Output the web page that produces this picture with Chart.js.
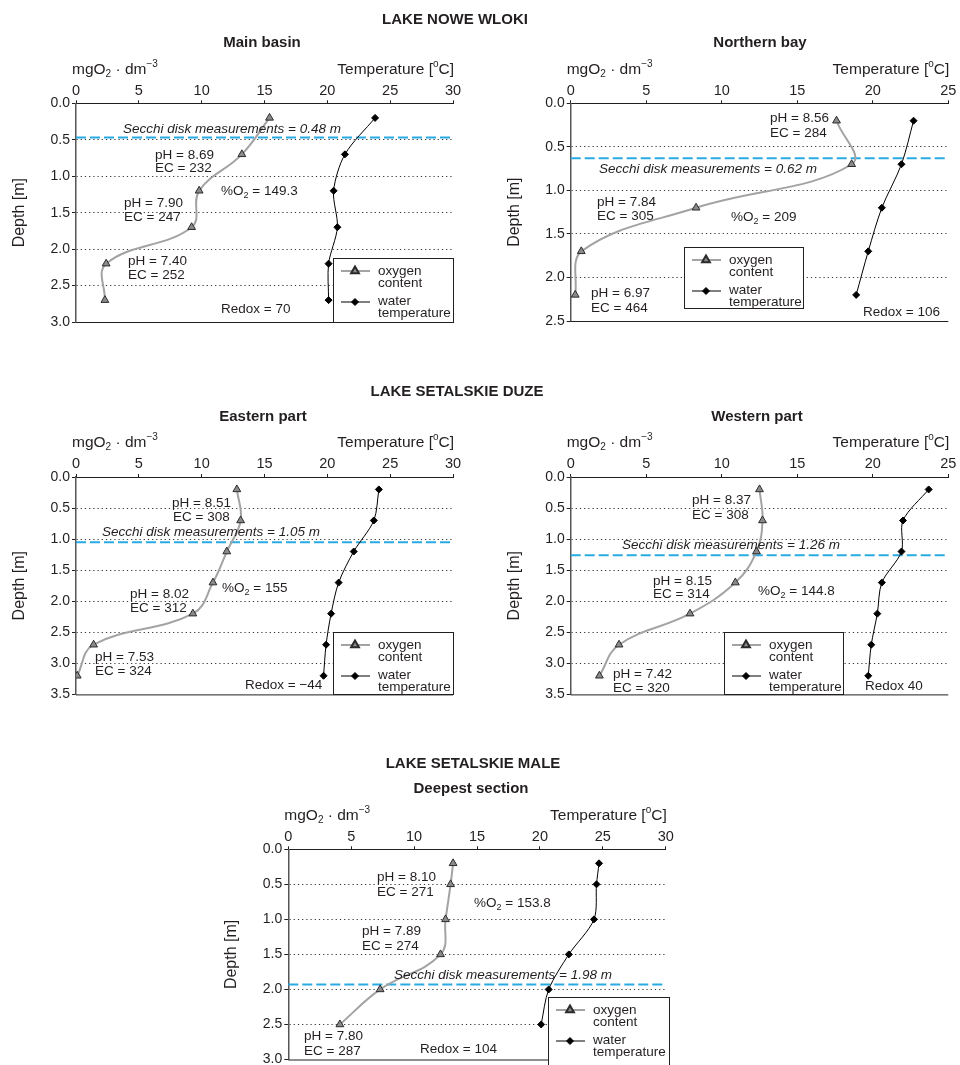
<!DOCTYPE html>
<html>
<head>
<meta charset="utf-8">
<script src="https://cdn.jsdelivr.net/npm/chart.js@4.4.1/dist/chart.umd.min.js"></script>
<style>
  html, body { margin: 0; padding: 0; background: #fff; }
  #wrap { position: relative; width: 960px; height: 1065px; overflow: hidden; }
  #wrap canvas { position: absolute; left: 0; top: 0; }
</style>
</head>
<body>
<div id="wrap">
  <canvas id="mainBasin" width="960" height="1065"></canvas>
  <canvas id="northernBay" width="960" height="1065"></canvas>
  <canvas id="easternPart" width="960" height="1065"></canvas>
  <canvas id="westernPart" width="960" height="1065"></canvas>
  <canvas id="deepest" width="960" height="1065"></canvas>
</div>
<script>
// sampling depths [m]
const depthMain = [0.2, 0.7, 1.2, 1.7, 2.2, 2.7];
const depthNorth = [0.2, 0.7, 1.2, 1.7, 2.2];
const depthDuze = [0.2, 0.7, 1.2, 1.7, 2.2, 2.7, 3.2];
const depthMale = [0.2, 0.5, 1.0, 1.5, 2.0, 2.5];

// oxygen content [mgO2/dm3] and water temperature [oC]
const oxyMain = [15.4, 13.2, 9.8, 9.2, 2.4, 2.3];
const tempMain = [23.8, 21.4, 20.5, 20.8, 20.1, 20.1];
const oxyNorth = [17.6, 18.6, 8.3, 0.7, 0.3];
const tempNorth = [22.7, 21.9, 20.6, 19.7, 18.9];
const oxyEast = [12.8, 13.1, 12.0, 10.9, 9.3, 1.4, 0.1];
const tempEast = [24.1, 23.7, 22.1, 20.9, 20.3, 19.9, 19.7];
const oxyWest = [12.5, 12.7, 12.3, 10.9, 7.9, 3.2, 1.9];
const tempWest = [23.7, 22.0, 21.9, 20.6, 20.3, 19.9, 19.7];
const oxyMale = [13.1, 12.9, 12.5, 12.1, 7.3, 4.1];
const tempMale = [24.7, 24.5, 24.3, 22.3, 20.7, 20.1];

// Secchi depth line (as drawn) and axis ranges
const secchiDepth = [0.47, 0.63, 1.05, 1.26, 1.93];
const xMaxes = [30, 25, 30, 25, 30];
const depthMaxes = [3.0, 2.5, 3.5, 3.5, 3.0];

const FONT = '"Liberation Sans", Arial, Helvetica, sans-serif';
const INK = '#231f20';

function drawRich(ctx, parts, x, y, size, style, align) {
  const big = (style || '') + ' ' + size + 'px ' + FONT;
  const small = (style || '') + ' ' + Math.round(size * 0.66) + 'px ' + FONT;
  if (typeof parts === 'string') parts = [[parts, '']];
  let w = 0;
  parts.forEach(p => { ctx.font = p[1] ? small : big; w += ctx.measureText(p[0]).width; });
  let cx = align === 'center' ? x - w / 2 : align === 'right' ? x - w : x;
  ctx.textAlign = 'left';
  ctx.textBaseline = 'middle';
  ctx.fillStyle = INK;
  parts.forEach(p => {
    ctx.font = p[1] ? small : big;
    const dy = p[1] === 'sub' ? size * 0.3 : p[1] === 'sup' ? -size * 0.35 : 0;
    ctx.fillText(p[0], cx, y + dy);
    cx += ctx.measureText(p[0]).width;
  });
}

const O2 = v => [['%O', ''], ['2', 'sub'], [' = ' + v, '']];
const sec = v => 'Secchi disk measurements = ' + v + ' m';

// text placed on each panel (page pixels)
const panels = {
  mainBasin: {
    titles: [['LAKE NOWE WLOKI', 455, 20], ['Main basin', 262, 43]],
    secchiText: [sec('0.48'), 123, 129],
    notes: [['pH = 8.69', 155, 155], ['EC = 232', 155, 168], [O2('149.3'), 221, 191],
            ['pH = 7.90', 124, 203], ['EC = 247', 124, 217],
            ['pH = 7.40', 128, 261], ['EC = 252', 128, 275], ['Redox = 70', 221, 309]],
    legend: { x: 333, y: 258, w: 120, h: 64 }
  },
  northernBay: {
    titles: [['Northern bay', 760, 43]],
    secchiText: [sec('0.62'), 599, 169],
    notes: [['pH = 8.56', 770, 118], ['EC = 284', 770, 133],
            ['pH = 7.84', 597, 202], ['EC = 305', 597, 216], [O2('209'), 731, 217],
            ['pH = 6.97', 591, 293], ['EC = 464', 591, 308], ['Redox = 106', 863, 312]],
    legend: { x: 684, y: 247, w: 119, h: 61 }
  },
  easternPart: {
    titles: [['LAKE SETALSKIE DUZE', 457, 392], ['Eastern part', 263, 417]],
    secchiText: [sec('1.05'), 102, 532],
    notes: [['pH = 8.51', 172, 503], ['EC = 308', 173, 517], [O2('155'), 222, 588],
            ['pH = 8.02', 130, 594], ['EC = 312', 130, 608],
            ['pH = 7.53', 95, 657], ['EC = 324', 95, 671], ['Redox = \u221244', 245, 685]],
    legend: { x: 333, y: 632, w: 120, h: 62 }
  },
  westernPart: {
    titles: [['Western part', 757, 417]],
    secchiText: [sec('1.26'), 622, 545],
    notes: [['pH = 8.37', 692, 500], ['EC = 308', 692, 515],
            ['pH = 8.15', 653, 581], ['EC = 314', 653, 594], [O2('144.8'), 758, 591],
            ['pH = 7.42', 613, 674], ['EC = 320', 613, 688], ['Redox 40', 865, 686]],
    legend: { x: 724, y: 632, w: 119, h: 62 }
  },
  deepest: {
    titles: [['LAKE SETALSKIE MALE', 473, 764], ['Deepest section', 471, 789]],
    secchiText: [sec('1.98'), 394, 975],
    notes: [['pH = 8.10', 377, 877], ['EC = 271', 377, 892], [O2('153.8'), 474, 903],
            ['pH = 7.89', 362, 931], ['EC = 274', 362, 946],
            ['pH = 7.80', 304, 1036], ['EC = 287', 304, 1051], ['Redox = 104', 420, 1049]],
    legend: { x: 548, y: 997, w: 121, h: 72 }
  }
};

function drawLegend(ctx, b) {
  ctx.save();
  ctx.fillStyle = '#fff';
  ctx.fillRect(b.x, b.y, b.w, b.h);
  ctx.strokeStyle = INK;
  ctx.lineWidth = 1;
  ctx.strokeRect(b.x + 0.5, b.y + 0.5, b.w, b.h);
  // oxygen
  ctx.strokeStyle = '#a3a3a3'; ctx.lineWidth = 2;
  ctx.beginPath(); ctx.moveTo(b.x + 8, b.y + 13); ctx.lineTo(b.x + 37, b.y + 13); ctx.stroke();
  ctx.fillStyle = '#8a8a8a'; ctx.strokeStyle = '#2b2b2b';
  Chart.helpers.drawPoint(ctx, { pointStyle: 'triangle', radius: 4.5, borderWidth: 1 }, b.x + 22, b.y + 13);
  // temperature
  ctx.strokeStyle = '#000'; ctx.lineWidth = 1;
  ctx.beginPath(); ctx.moveTo(b.x + 8, b.y + 44); ctx.lineTo(b.x + 37, b.y + 44); ctx.stroke();
  ctx.fillStyle = '#000';
  Chart.helpers.drawPoint(ctx, { pointStyle: 'rectRot', radius: 3.5, borderWidth: 1 }, b.x + 22, b.y + 44);
  drawRich(ctx, 'oxygen', b.x + 45, b.y + 13, 13.5);
  drawRich(ctx, 'content', b.x + 45, b.y + 25, 13.5);
  drawRich(ctx, 'water', b.x + 45, b.y + 43, 13.5);
  drawRich(ctx, 'temperature', b.x + 45, b.y + 55, 13.5);
  ctx.restore();
}

const panelPlugin = {
  id: 'panelExtras',
  beforeDatasetsDraw(chart) {
    const { ctx, chartArea: a } = chart;
    const idx = chart.$idx;
    ctx.save();
    ctx.strokeStyle = INK; ctx.lineWidth = 1;
    ctx.beginPath(); ctx.moveTo(a.left, a.bottom + 0.5); ctx.lineTo(a.right, a.bottom + 0.5); ctx.stroke();
    const yy = chart.scales.y.getPixelForValue(secchiDepth[idx]);
    ctx.strokeStyle = '#2aaae2'; ctx.lineWidth = 2; ctx.setLineDash([10, 4]);
    ctx.beginPath(); ctx.moveTo(a.left, yy); ctx.lineTo(a.right, yy); ctx.stroke();
    ctx.restore();
  },
  afterDatasetsDraw(chart) {
    const { ctx, chartArea: a } = chart;
    const p = panels[chart.canvas.id];
    ctx.save();
    p.titles.forEach(t => drawRich(ctx, t[0], t[1], t[2], 15, 'bold', 'center'));
    drawRich(ctx, [['mgO', ''], ['2', 'sub'], [' \u00b7 dm', ''], ['\u22123', 'sup']], a.left - 4, a.top - 34, 15.5);
    drawRich(ctx, [['Temperature [', ''], ['o', 'sup'], ['C]', '']], a.right + 1, a.top - 34, 15.5, '', 'right');
    drawRich(ctx, p.secchiText[0], p.secchiText[1], p.secchiText[2], 13.5, 'italic');
    p.notes.forEach(n => drawRich(ctx, n[0], n[1], n[2], 13.5));
    drawLegend(ctx, p.legend);
    ctx.restore();
  }
};

function makeChart(id, idx, depth, oxy, temp, pad) {
  const yMax = depthMaxes[idx];
  const chart = new Chart(document.getElementById(id), {
    type: 'scatter',
    data: {
      datasets: [{
        label: 'oxygen content',
        data: depth.map((d, i) => ({ x: oxy[i], y: d })),
        showLine: true,
        tension: 0.4,
        borderColor: '#a3a3a3',
        borderWidth: 2,
        pointStyle: 'triangle',
        pointRadius: 4.5,
        pointBackgroundColor: '#8a8a8a',
        pointBorderColor: '#2b2b2b',
        pointBorderWidth: 1
      }, {
        label: 'water temperature',
        data: depth.map((d, i) => ({ x: temp[i], y: d })),
        showLine: true,
        tension: 0.3,
        borderColor: '#000',
        borderWidth: 1,
        pointStyle: 'rectRot',
        pointRadius: 3.5,
        pointBackgroundColor: '#000',
        pointBorderColor: '#000'
      }]
    },
    options: {
      responsive: false,
      animation: false,
      layout: { padding: pad },
      plugins: { legend: { display: false }, tooltip: { enabled: false } },
      scales: {
        x: {
          type: 'linear', position: 'top', min: 0, max: xMaxes[idx],
          ticks: { stepSize: 5, maxRotation: 0, padding: 1, color: INK, font: { family: FONT, size: 14.5 } },
          grid: { drawOnChartArea: false, tickLength: 3, tickColor: INK },
          border: { color: INK, width: 1 },
          afterFit: s => { s.height = 24; s.paddingLeft = 0; s.paddingRight = 0; }
        },
        y: {
          type: 'linear', reverse: true, min: 0, max: yMax,
          ticks: { stepSize: 0.5, padding: 2, color: INK, font: { family: FONT, size: 14 },
                   callback: v => v.toFixed(1) },
          grid: {
            color: c => (c.tick && (c.tick.value === 0 || c.tick.value === yMax)) ? 'rgba(0,0,0,0)' : '#333',
            lineWidth: 1, tickLength: 4, tickColor: INK
          },
          border: { color: '#555', width: 1.5, dash: [1.2, 3] },
          title: { display: true, text: 'Depth [m]', color: INK, font: { family: FONT, size: 16 }, padding: { top: 10, bottom: 0 } },
          afterFit: s => { s.width = 76; s.paddingTop = 0; s.paddingBottom = 0; }
        }
      }
    },
    plugins: [{ id: 'idx', beforeInit(c) { c.$idx = idx; } }, panelPlugin]
  });
  return chart;
}

makeChart('mainBasin', 0, depthMain, oxyMain, tempMain, { left: 0, top: 79.3, right: 507, bottom: 743 });
makeChart('northernBay', 1, depthNorth, oxyNorth, tempNorth, { left: 494.7, top: 79.3, right: 11.7, bottom: 744 });
makeChart('easternPart', 2, depthDuze, oxyEast, tempEast, { left: 0, top: 453, right: 507, bottom: 370.6 });
makeChart('westernPart', 3, depthDuze, oxyWest, tempWest, { left: 494.7, top: 453, right: 11.7, bottom: 370.6 });
makeChart('deepest', 4, depthMale, oxyMale, tempMale, { left: 212.3, top: 825.3, right: 294.3, bottom: 5 });
</script>
</body>
</html>
